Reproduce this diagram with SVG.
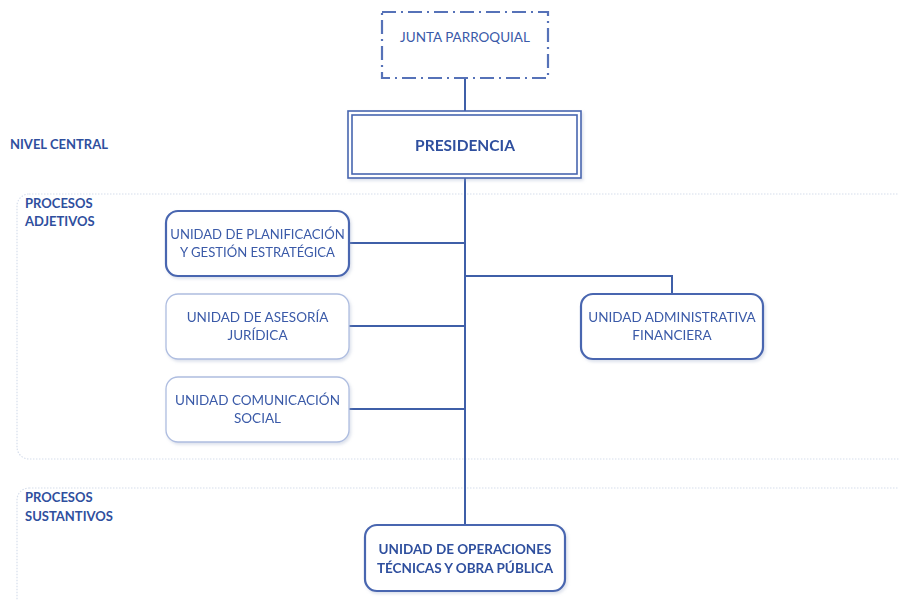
<svg xmlns="http://www.w3.org/2000/svg" width="899" height="600" viewBox="0 0 899 600">
<defs>
<style>
.t{font-family:Lato,"Open Sans","Liberation Sans",sans-serif;fill:#3a5aa8;font-size:13.5px;text-anchor:middle}
.b{font-weight:bold;fill:#2f4f9e}
.lab{font-family:Lato,"Open Sans","Liberation Sans",sans-serif;font-weight:bold;fill:#2f4f9e;font-size:13px}
.sec{fill:none;stroke:#d6deec;stroke-width:1.2;stroke-dasharray:1.5 1.5}
.box{fill:#fff;stroke:#aebde0;stroke-width:1.3}
.boxd{fill:#fff;stroke:#4866b0;stroke-width:2.2}
.con{stroke:#3f5fa8;stroke-width:2;fill:none}
</style>
<filter id="sh" x="-10%" y="-10%" width="125%" height="130%">
<feDropShadow dx="1.5" dy="2" stdDeviation="1.5" flood-color="#9aa8c8" flood-opacity="0.35"/>
</filter>
</defs>
<rect width="899" height="600" fill="#fff"/>
<rect class="sec" x="17" y="194" width="900" height="265" rx="12"/>
<rect class="sec" x="17" y="488" width="900" height="140" rx="12"/>
<text class="lab" x="10" y="149">NIVEL CENTRAL</text>
<text class="lab" x="25" y="208">PROCESOS</text>
<text class="lab" x="25" y="226">ADJETIVOS</text>
<text class="lab" x="25" y="502">PROCESOS</text>
<text class="lab" x="25" y="521">SUSTANTIVOS</text>
<g id="connectors">
<line class="con" x1="465" y1="78" x2="465" y2="111"/>
<line class="con" x1="465" y1="178" x2="465" y2="525"/>
<line class="con" x1="349" y1="243" x2="465" y2="243"/>
<line class="con" x1="349" y1="326" x2="465" y2="326"/>
<line class="con" x1="349" y1="409" x2="465" y2="409"/>
<polyline class="con" points="465,276 672,276 672,294"/>
</g>
<g id="junta">
<rect x="382" y="12" width="166" height="66" fill="#fff" stroke="#5672b8" stroke-width="2.2" stroke-dasharray="14 5 2 5"/>
<text class="t" x="465" y="42">JUNTA PARROQUIAL</text>
</g>
<g id="presidencia" filter="url(#sh)">
<rect x="348" y="111" width="233" height="67" fill="#fff" stroke="#4866b0" stroke-width="1.6"/>
<rect x="352" y="115" width="225" height="59" fill="#fff" stroke="#4866b0" stroke-width="1.6"/>
<text class="t b" x="465" y="151" style="font-size:15.5px">PRESIDENCIA</text>
</g>
<g id="planificacion" filter="url(#sh)">
<rect class="boxd" x="166" y="211" width="183" height="65" rx="12"/>
<text class="t" x="257.5" y="239" style="font-size:13.1px">UNIDAD DE PLANIFICACIÓN</text>
<text class="t" x="257.5" y="257" style="font-size:13.1px">Y GESTIÓN ESTRATÉGICA</text>
</g>
<g id="asesoria" filter="url(#sh)">
<rect class="box" x="166" y="294" width="183" height="65" rx="12"/>
<text class="t" x="257.5" y="322">UNIDAD DE ASESORÍA</text>
<text class="t" x="257.5" y="340">JURÍDICA</text>
</g>
<g id="comunicacion" filter="url(#sh)">
<rect class="box" x="166" y="377" width="183" height="65" rx="12"/>
<text class="t" x="257.5" y="405">UNIDAD COMUNICACIÓN</text>
<text class="t" x="257.5" y="423">SOCIAL</text>
</g>
<g id="administrativa" filter="url(#sh)">
<rect class="boxd" x="581" y="294" width="182" height="65" rx="12"/>
<text class="t" x="672" y="322">UNIDAD ADMINISTRATIVA</text>
<text class="t" x="672" y="340">FINANCIERA</text>
</g>
<g id="operaciones" filter="url(#sh)">
<rect class="boxd" x="365" y="525" width="200" height="66" rx="12"/>
<text class="t b" x="465" y="554">UNIDAD DE OPERACIONES</text>
<text class="t b" x="465" y="573">TÉCNICAS Y OBRA PÚBLICA</text>
</g>
</svg>
